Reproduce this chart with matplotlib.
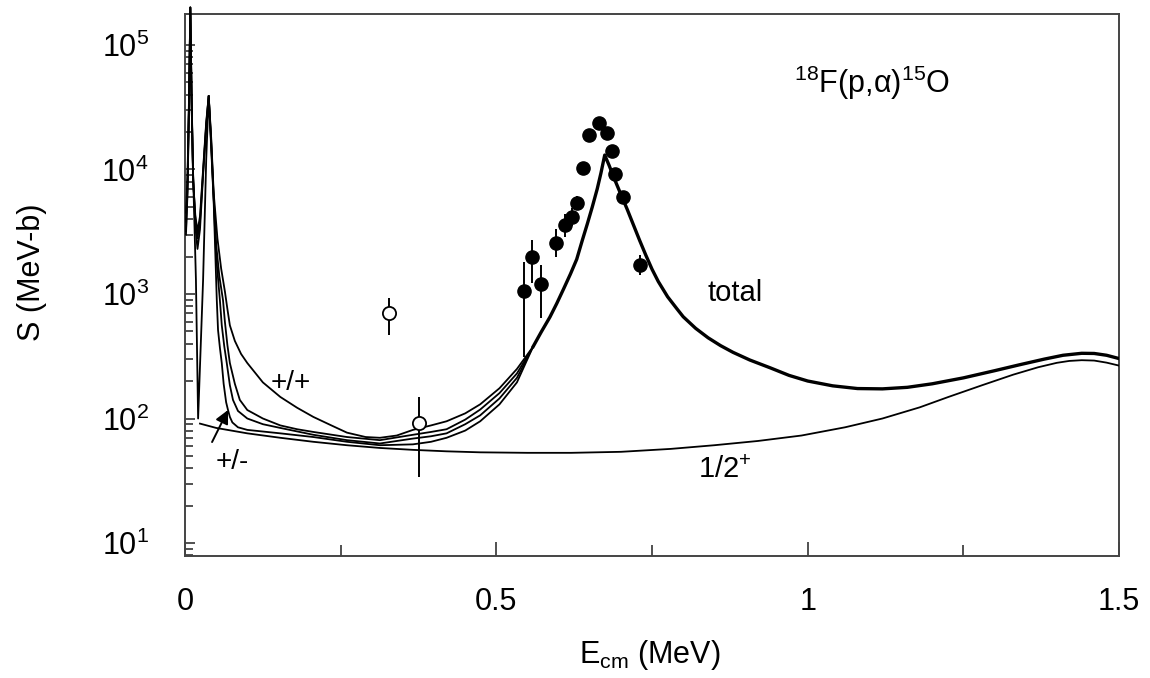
import matplotlib
matplotlib.use("Agg")
import matplotlib.pyplot as plt
from matplotlib.ticker import LogLocator, NullFormatter
import numpy as np

plt.rcParams['font.family'] = ['Liberation Sans', 'DejaVu Sans']
plt.rcParams['mathtext.fontset'] = 'custom'
plt.rcParams['mathtext.rm'] = 'Liberation Sans'
plt.rcParams['mathtext.it'] = 'Liberation Sans:italic'
plt.rcParams['mathtext.bf'] = 'Liberation Sans:bold'

# --- total S-factor, four interference choices below the 665 keV resonance ---
E_pp = [0.0015, 0.004, 0.0065, 0.0085, 0.0105, 0.013, 0.0165, 0.020, 0.024, 0.029, 0.034, 0.038,
        0.042, 0.046, 0.052, 0.058, 0.064, 0.068, 0.072, 0.08, 0.09, 0.10, 0.125, 0.153, 0.18,
        0.206, 0.235, 0.26, 0.29, 0.313, 0.34, 0.366, 0.395, 0.42, 0.45, 0.474, 0.505, 0.533, 0.559]
S_pp = [4500, 9000, 40000, 200000, 40000, 9000, 3500, 2300, 3300, 9000, 22000, 39000,
        18000, 6500, 2800, 1600, 1050, 760, 560, 420, 330, 279, 195, 149, 122,
        103, 88, 77, 71, 70, 73, 81, 88, 95, 110, 130, 175, 250, 378]

E_b = [0.0015, 0.004, 0.0065, 0.0085, 0.0105, 0.013, 0.0165, 0.020, 0.024, 0.029, 0.034, 0.038,
       0.042, 0.046, 0.050, 0.055, 0.061, 0.064, 0.068, 0.072, 0.08, 0.088, 0.10, 0.125, 0.153,
       0.18, 0.206, 0.26, 0.313, 0.366, 0.395, 0.42, 0.45, 0.474, 0.505, 0.533, 0.559]
S_b = [3800, 8000, 38000, 200000, 38000, 8500, 4000, 2800, 3800, 9500, 23000, 39000,
       17000, 6000, 2500, 1400, 891, 600, 390, 279, 190, 141, 117, 100, 88,
       82, 78, 71, 67, 74, 78, 82, 98, 118, 160, 230, 378]

E_c = [0.0015, 0.004, 0.0065, 0.0085, 0.0105, 0.013, 0.0165, 0.020, 0.024, 0.029, 0.034, 0.038,
       0.042, 0.046, 0.050, 0.056, 0.059, 0.063, 0.067, 0.072, 0.077, 0.085, 0.10, 0.125, 0.153,
       0.206, 0.26, 0.313, 0.366, 0.395, 0.42, 0.45, 0.474, 0.505, 0.533, 0.559]
S_c = [3200, 7000, 36000, 200000, 36000, 8000, 4300, 3200, 4200, 10000, 24000, 39000,
       16000, 5800, 2000, 891, 560, 380, 279, 185, 141, 115, 100, 90, 84,
       74, 67, 63, 69, 72, 76, 90, 106, 145, 212, 378]

E_pm = [0.0015, 0.004, 0.0065, 0.0085, 0.0105, 0.013, 0.0175, 0.021, 0.029, 0.034, 0.038,
        0.042, 0.046, 0.051, 0.053, 0.056, 0.059, 0.062, 0.066, 0.069, 0.072, 0.076, 0.085, 0.10,
        0.153, 0.206, 0.26, 0.313, 0.366, 0.395, 0.42, 0.45, 0.474, 0.505, 0.533, 0.559]
S_pm = [3000, 6500, 35000, 200000, 35000, 9000, 1300, 100, 1300, 12000, 39000,
        15000, 5500, 891, 513, 370, 279, 190, 135, 117, 103, 93, 85, 81,
        76, 71, 65, 61, 62, 65, 70, 80, 95, 130, 195, 378]

# common part above 0.56 MeV (the four curves coincide)
E_tot = [0.559, 0.572, 0.586, 0.597, 0.608, 0.619, 0.629, 0.638, 0.646, 0.654, 0.662, 0.668,
         0.674, 0.681, 0.69, 0.70, 0.71, 0.72, 0.73, 0.74, 0.75, 0.76, 0.775, 0.79, 0.80,
         0.82, 0.84, 0.86, 0.88, 0.907, 0.94, 0.97, 1.0, 1.04, 1.08, 1.12, 1.16, 1.2,
         1.25, 1.30, 1.34, 1.38, 1.41, 1.44, 1.46, 1.48, 1.5]
S_tot = [378, 495, 653, 840, 1100, 1450, 1900, 2700, 3650, 5000, 7000, 9400,
         13060, 10800, 8300, 6300, 4800, 3600, 2700, 2050, 1580, 1260, 950, 760, 657,
         530, 445, 385, 340, 295, 255, 222, 200, 183, 174, 173, 178, 190,
         212, 242, 270, 300, 322, 334, 333, 322, 303]

# 1/2+ contribution
E_half = [0.024, 0.05, 0.10, 0.153, 0.206, 0.26, 0.313, 0.366, 0.42, 0.474, 0.55, 0.62, 0.70,
          0.78, 0.85, 0.92, 0.99, 1.06, 1.12, 1.18, 1.226, 1.28, 1.33, 1.37, 1.40, 1.42, 1.44,
          1.46, 1.48, 1.5]
S_half = [91, 84, 76, 70, 65, 61, 58, 56, 54.5, 53.5, 53, 53, 54,
          57, 61, 66, 73, 85, 100, 123, 149, 185, 225, 258, 280, 290, 294,
          292, 281, 266]

# data, filled circles
E_dat = [0.544, 0.557, 0.571, 0.596, 0.610, 0.621, 0.630, 0.639, 0.649, 0.665, 0.677, 0.685,
         0.690, 0.704, 0.730]
S_dat = [1064, 1995, 1200, 2584, 3580, 4130, 5370, 10330, 18900, 23500, 19780, 14150,
         9210, 6030, 1710]
S_dat_lo = [312, 1220, 640, 1980, 2870, 3500, 4700, 9200, 17400, 21600, 18200, 13000,
            8500, 5550, 1410]
S_dat_hi = [1800, 2710, 1710, 3330, 4400, 4900, 6100, 11500, 20500, 25400, 21400, 15300,
            10000, 6500, 2060]

# data, open circles
E_open = [0.327, 0.376]
S_open = [700, 91.4]
S_open_lo = [469, 33.9]
S_open_hi = [930, 149]

xticks = [0, 0.5, 1, 1.5]
xticklabels = ['0', '0.5', '1', '1.5']
xminor = [0.25, 0.75, 1.25]

fig = plt.figure(figsize=(11.5, 6.78), dpi=100)
ax = fig.add_axes([0.1609, 0.1799, 0.8122, 0.7995])
ax.set_yscale('log')

for E, S in [(E_pp, S_pp), (E_b, S_b), (E_c, S_c), (E_pm, S_pm)]:
    ax.plot(E, S, color='black', lw=1.3, clip_on=False, zorder=3)
ax.plot(E_tot, S_tot, color='black', lw=2.4, zorder=3)
ax.plot(E_half, S_half, color='black', lw=1.3, zorder=3)

S_dat = np.array(S_dat)
ax.errorbar(E_dat, S_dat, yerr=[S_dat - np.array(S_dat_lo), np.array(S_dat_hi) - S_dat],
            fmt='o', ms=9.5, mfc='black', mec='black', ecolor='black', elinewidth=1.4,
            capsize=0, zorder=4)
S_open = np.array(S_open)
ax.errorbar(E_open, S_open, yerr=[S_open - np.array(S_open_lo), np.array(S_open_hi) - S_open],
            fmt='o', ms=9.5, mfc='white', mec='black', mew=1.3, ecolor='black', elinewidth=1.4,
            capsize=0, zorder=4)

ax.set_xlim(0, 1.5)
ax.set_ylim(7.86, 1.775e5)

ax.set_xticks(xticks)
ax.set_xticklabels(xticklabels)
ax.set_xticks(xminor, minor=True)
ax.yaxis.set_major_locator(LogLocator(base=10, numticks=10))
ax.yaxis.set_minor_locator(LogLocator(base=10, subs=np.arange(2, 10), numticks=20))
ax.yaxis.set_minor_formatter(NullFormatter())

ax.tick_params(axis='x', which='major', direction='in', length=10, width=1.2, pad=22,
               labelsize=22, top=False, color='#333333')
ax.tick_params(axis='x', which='minor', direction='in', length=8, width=1.2, top=False,
               color='#333333')
ax.tick_params(axis='y', which='major', direction='in', length=7, width=1.2, pad=26,
               labelsize=22, right=False, color='#333333')
ax.tick_params(axis='y', which='minor', direction='in', length=5.5, width=1.2, right=False,
               color='#333333')
for sp in ax.spines.values():
    sp.set_color('#444444')
    sp.set_linewidth(1.4)

ax.set_xlabel(r'E$_{\mathrm{cm}}$ (MeV)', fontsize=22)
ax.xaxis.set_label_coords(0.498, -0.152)
ax.set_ylabel('S (MeV-b)', fontsize=22)
ax.yaxis.set_label_coords(-0.148, 0.524)

ax.text(1.103, 49500, r'$^{18}$F(p,α)$^{15}$O', fontsize=22, ha='center', va='center')
ax.text(0.883, 1020, 'total', fontsize=21, ha='center', va='center')
ax.text(0.867, 38.5, r'1/2$^{+}$', fontsize=21, ha='center', va='center')
ax.text(0.169, 193, '+/+', fontsize=20, ha='center', va='center')
ax.text(0.0755, 44.7, '+/-', fontsize=20, ha='center', va='center')
ax.annotate('', xy=(0.069, 117), xytext=(0.0434, 64.7),
            arrowprops=dict(arrowstyle='-|>', color='black', lw=1.4, mutation_scale=20,
                            shrinkA=0, shrinkB=0))

fig.savefig('out.png', dpi=100)
